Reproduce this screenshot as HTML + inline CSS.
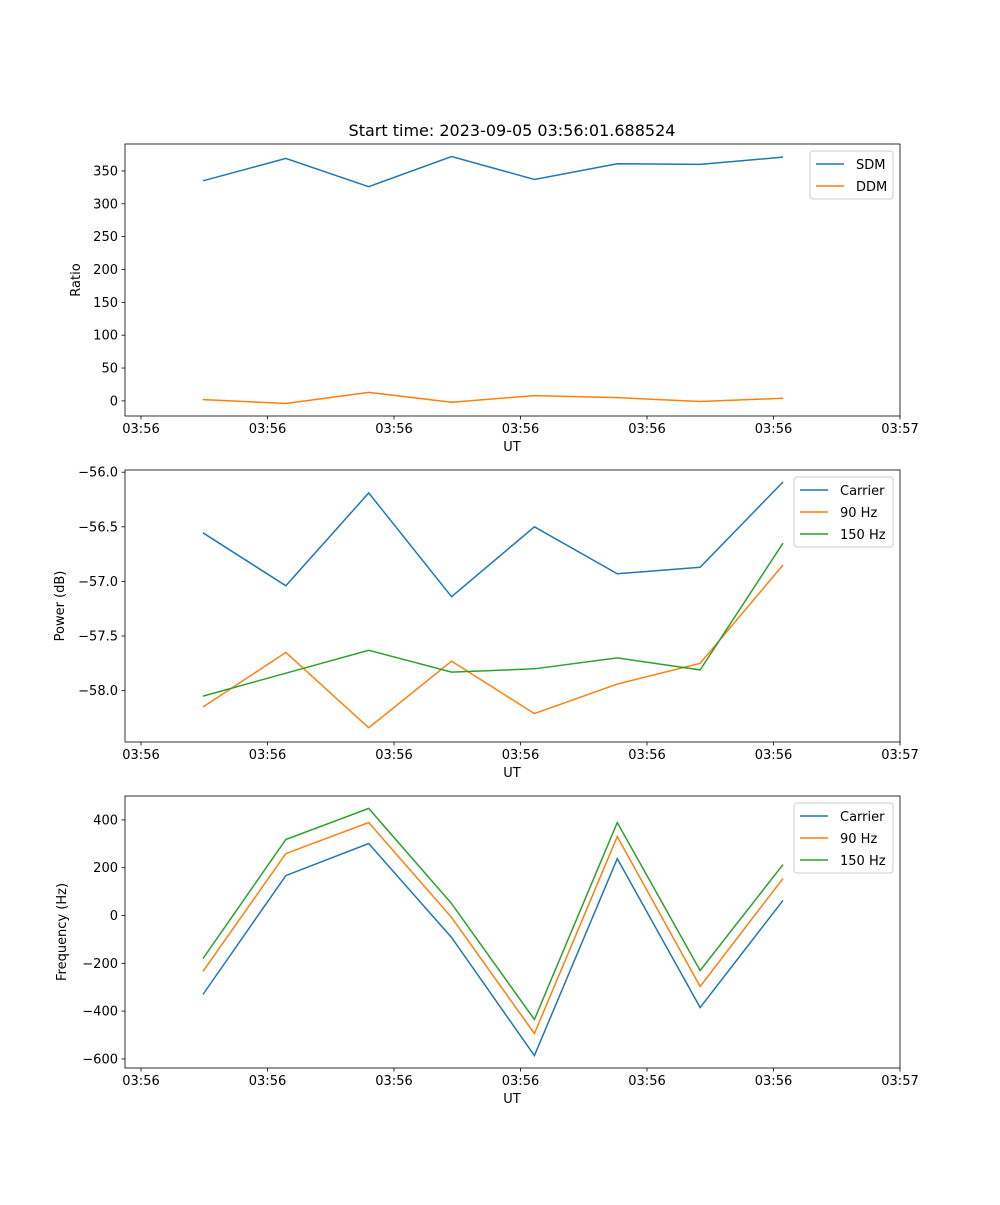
<!DOCTYPE html>
<html><head><meta charset="utf-8"><style>
body{margin:0;background:#fff}
svg text{font-family:"DejaVu Sans","Liberation Sans",sans-serif;font-size:13px;fill:#000}
</style></head><body>
<svg id="fig" width="1000" height="1200" xmlns="http://www.w3.org/2000/svg"></svg>
<script>
const times=[0.49,1.145,1.8,2.455,3.11,3.765,4.42,5.075];
const xTickVals=[0,1,2,3,4,5,6];
const xTickLabels=["03:56","03:56","03:56","03:56","03:56","03:56","03:57"];
const sdm=[335,369,326,372,337,361,360,371];
const ddm=[2,-4,13,-2,8,5,-1,4];
const pCarrier=[-56.555,-57.04,-56.19,-57.14,-56.5,-56.93,-56.87,-56.09];
const p90=[-58.15,-57.65,-58.34,-57.73,-58.21,-57.94,-57.75,-56.85];
const p150=[-58.05,-57.84,-57.63,-57.83,-57.80,-57.70,-57.81,-56.65];
const fCarrier=[-330,167,301,-92,-586,238,-385,63];
const f90=[-234,259,389,-8,-494,330,-297,155];
const f150=[-180,318,448,50,-435,389,-230,213];
const ticks1=[0,50,100,150,200,250,300,350];
const ticks2=[-56.0,-56.5,-57.0,-57.5,-58.0];
const ticks3=[400,200,0,-200,-400,-600];
const C=["#1f77b4","#ff7f0e","#2ca02c"];
const NS="http://www.w3.org/2000/svg";
const svg=document.getElementById('fig');
function el(t,a,p){const e=document.createElementNS(NS,t);for(const k in a)e.setAttribute(k,a[k]);(p||svg).appendChild(e);return e;}
const L=125,R=900;
function xs(t){return 141+t*126.5;}
function panel(name,top,bot,ymin,ymax,yticks,fmt,series,labels,ylabel,legW,title){
  const g=el('g',{});
  const ys=v=>bot-(v-ymin)/(ymax-ymin)*(bot-top);
  series.forEach((s,i)=>{const p=el('polyline',{points:s.map((v,j)=>xs(times[j])+','+ys(v)).join(' '),fill:'none',stroke:C[i],'stroke-width':1.5},g);
    });
  el('rect',{x:L,y:top,width:R-L,height:bot-top,fill:'none',stroke:'#000','stroke-width':0.8},g);
  xTickVals.forEach((t,i)=>{const x=xs(t);el('line',{x1:x,x2:x,y1:bot,y2:bot+3.5,stroke:'#000','stroke-width':0.8},g);
    const tx=el('text',{x:x,y:bot+17,'text-anchor':'middle'},g);tx.textContent=xTickLabels[i];});
  yticks.forEach(v=>{const y=ys(v);el('line',{x1:L-3.5,x2:L,y1:y,y2:y,stroke:'#000','stroke-width':0.8},g);
    const tx=el('text',{x:L-7,y:y+4.5,'text-anchor':'end'},g);tx.textContent=fmt(v);});
  const xl=el('text',{x:512,y:bot+35,'text-anchor':'middle'},g);xl.textContent='UT';
  const yl=el('text',{x:0,y:0,'text-anchor':'middle',transform:`translate(${ylabel[1]},${(top+bot)/2}) rotate(-90)`},g);yl.textContent=ylabel[0];
  if(title){const tt=el('text',{x:512,y:top-8,'text-anchor':'middle','font-size':'16px'},g);tt.style.fontSize='16px';tt.textContent=title;}
  const lx=R-7-legW,ly=top+7;
  const lg=el('g',{},g);
  el('rect',{x:lx,y:ly,width:legW,height:labels.length*22+4,rx:3,fill:'#fff',stroke:'#ccc','stroke-width':1},lg);
  labels.forEach((lab,i)=>{const y=ly+13+i*22;el('line',{x1:lx+6,x2:lx+34,y1:y,y2:y,stroke:C[i],'stroke-width':1.5},lg);
    const t=el('text',{x:lx+46,y:y+5},lg);t.textContent=lab;});
}
const m=v=>String(v).replace('-','\u2212');
panel('ratio-panel',144,416,-23,391,ticks1,v=>m(v),[sdm,ddm],['SDM','DDM'],['Ratio',80],83,'Start time: 2023-09-05 03:56:01.688524');
panel('power-panel',470,742,-58.47,-55.98,ticks2,v=>m(v.toFixed(1)),[pCarrier,p90,p150],['Carrier','90 Hz','150 Hz'],['Power (dB)',64],99,null);
panel('frequency-panel',796,1068,-638,500,ticks3,v=>m(v),[fCarrier,f90,f150],['Carrier','90 Hz','150 Hz'],['Frequency (Hz)',66],99,null);
</script>
</body></html>
